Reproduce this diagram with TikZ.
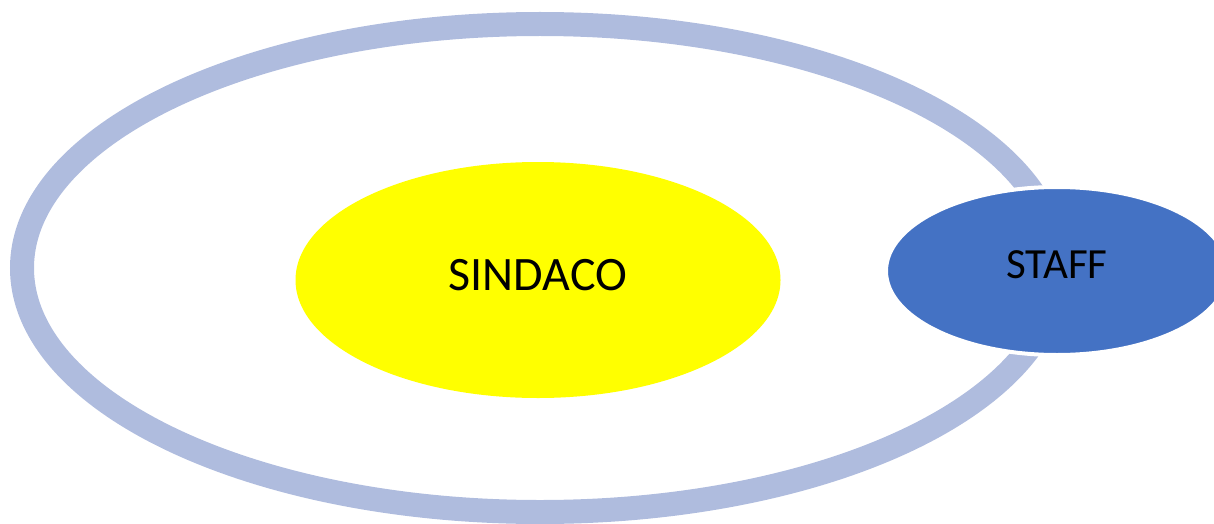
\documentclass[tikz,border=0pt]{standalone}
\usepackage{fontspec}
\setmainfont{Carlito}
\usetikzlibrary{shapes.geometric}
\definecolor{ringblue}{RGB}{175,188,222}
\definecolor{staffblue}{RGB}{68,114,196}
\definecolor{sunyellow}{RGB}{255,255,0}
\tikzset{
  ring/.style={draw=ringblue, line width=24pt},
  blob/.style={ellipse, inner sep=0pt, text=black},
}
\begin{document}
\begin{tikzpicture}[x=1pt,y=-1pt]
\useasboundingbox (0,0) rectangle (1214,524);
\draw[ring] (540,268) ellipse [x radius=518, y radius=244];
\node[blob, fill=sunyellow, minimum width=485pt, minimum height=236pt, text height=31pt, text depth=10pt, font=\fontsize{48}{52}\selectfont] (sindaco) at (538,280) {SINDACO};
\node[blob, fill=staffblue, draw=white, line width=4pt, minimum width=342pt, minimum height=168pt, text height=27.7pt, text depth=12pt, font=\fontsize{43}{47}\selectfont] (staff) at (1057,271) {STAFF};
\end{tikzpicture}
\end{document}
